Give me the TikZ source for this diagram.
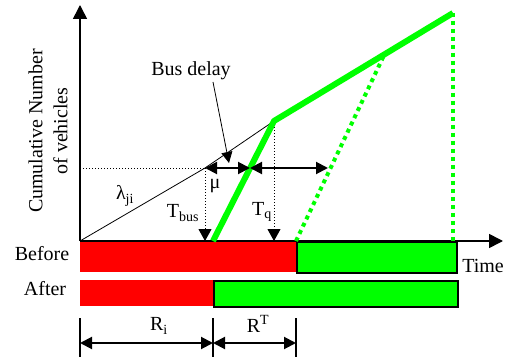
\documentclass[tikz,border=0pt]{standalone}
\usepackage{fontspec}
\setmainfont{Liberation Serif}
\usetikzlibrary{arrows.meta,calc}

\begin{document}
\begin{tikzpicture}[
    x=1pt,y=-1pt,
    font=\fontsize{20}{25}\selectfont,
    axis/.style={line width=1.6pt,-{Triangle[length=14pt,width=14pt]}},
    rate/.style={line width=0.8pt},
    guide/.style={dotted,line width=1pt},
    drop/.style={guide,-{Triangle[length=12pt,width=13pt]}},
    span/.style={line width=2pt,
        {Triangle[length=12pt,width=12pt]}-{Triangle[length=12pt,width=12pt]}},
    served/.style={green,line width=6pt,line join=round},
    ghost/.style={green,line width=4pt,dash pattern=on 4pt off 4pt},
    redbar/.style={fill=red,draw=none,inner sep=0pt,anchor=north west},
    greenbar/.style={fill=green,draw=black,line width=1.5pt,inner sep=0pt,anchor=north west},
    tick/.style={line width=1.2pt},
    lbl/.style={inner sep=1pt}
]
\path[use as bounding box,fill=white] (0,0) rectangle (512,361);

% signal bars, before and after the bus
\node[redbar,minimum width=216pt,minimum height=31pt] (bred) at (80,241) {};
\node[greenbar,minimum width=160pt,minimum height=31pt] (bgreen) at (296,241) {};
\node[redbar,minimum width=133pt,minimum height=26pt] (ared) at (80,280) {};
\node[greenbar,minimum width=244pt,minimum height=26pt] (agreen) at (213,280) {};

\coordinate (O) at (80,241);
\coordinate (ytip) at (80,5);
\coordinate (xtip) at (503,241);
\coordinate (bus) at (205,168);
\coordinate (kink) at (274,121);
\coordinate (top) at (453,13);
\coordinate (start) at (213,241);
\coordinate (cross) at (250,168);
\coordinate (qend) at (328,168);
\coordinate (yref) at (80,168);

\draw[axis] (O) -- (ytip);
\draw[axis] (O) -- (xtip);

\draw[rate] (O) -- (bus) -- (kink);
\draw[guide] (yref) -- (bus);
\draw[drop] (bus) -- (bus |- O);
\draw[drop] (kink) -- (kink |- O);

\draw[served] (start) -- (kink) -- (top);
\draw[ghost] (bgreen.north west) -- ($(kink)!0.617!(top)$);
\draw[ghost] (top) -- (top |- O);

\draw[span] (bus) -- (cross);
\draw[span] (cross) -- (qend);

\node[lbl] (delay) at (191,71) {Bus delay};
\draw[line width=0.8pt,-{Triangle[length=11pt,width=11pt]}]
    (213,82) -- (229,163);

\node[lbl] (mu) at (215,186) {μ};
\node[lbl] (lam) at (125,196) {λ\textsubscript{ji}};
\node[lbl] (tbus) at (183,213) {T\textsubscript{bus}};
\node[lbl] (tq) at (262,212) {T\textsubscript{q}};

\node[lbl,rotate=90,align=center] (ylab) at (48,131)
    {Cumulative Number\\of vehicles};
\node[lbl] (before) at (42,254) {Before};
\node[lbl] (after) at (45,289) {After};
\node[lbl] (time) at (483,266) {Time};

% durations under the bars
\foreach \x/\n in {80/t0,213/t1,296/t2}
    \draw[tick] (\x,318) coordinate (\n) -- (\x,357);
\draw[span] (80,343) -- (213,343);
\draw[span] (213,343) -- (296,343);
\node[lbl] (ri) at (159,326) {R\textsubscript{i}};
\node[lbl] (rt) at (258,324) {R\textsuperscript{T}};
\end{tikzpicture}
\end{document}
